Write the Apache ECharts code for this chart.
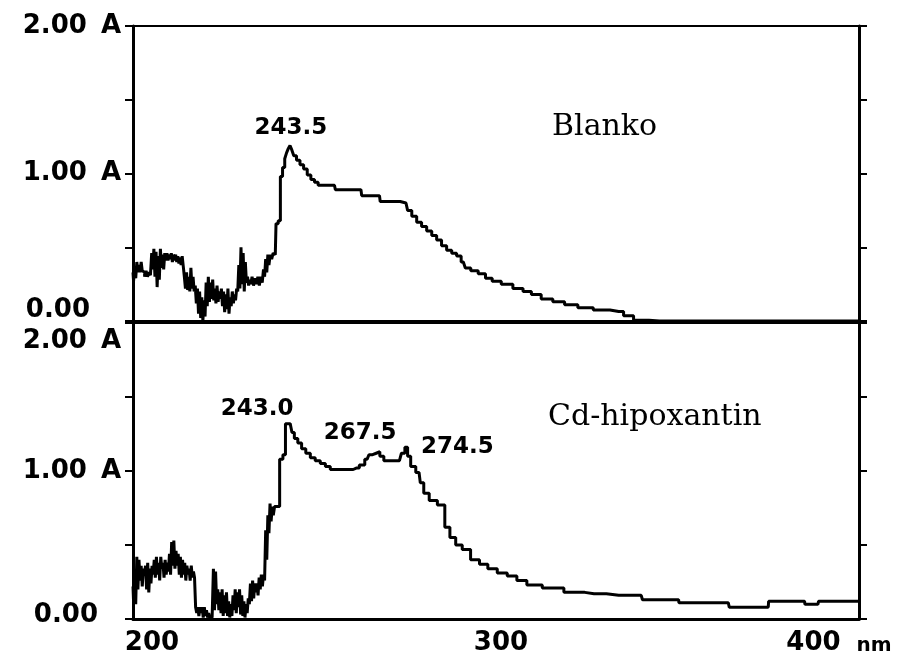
<!DOCTYPE html>
<html>
<head>
<meta charset="utf-8">
<script src="https://cdn.jsdelivr.net/npm/echarts@6/dist/echarts.min.js"></script>
<style>
  html, body { margin: 0; padding: 0; background: #fff; }
  #chart { width: 914px; height: 662px; }
</style>
</head>
<body>
<div id="chart"></div>
<script>
// wavelength (nm) / absorbance (A)
var blankoNm = [200.0, 200.3, 200.6, 200.9, 201.2, 201.5, 201.8, 202.1, 202.4, 202.7, 203.0, 203.4, 203.8, 204.2, 204.6, 205.0, 205.3, 205.6, 205.9, 206.2, 206.5, 206.8, 207.1, 207.4, 207.7, 208.0, 208.3, 208.6, 208.9, 209.2, 209.5, 209.8, 210.1, 210.4, 210.7, 211.0, 211.3, 211.6, 211.9, 212.2, 212.5, 212.8, 213.1, 213.4, 213.7, 214.0, 214.3, 214.6, 214.9, 215.2, 215.5, 215.8, 216.1, 216.4, 216.7, 217.0, 217.3, 217.6, 217.9, 218.2, 218.5, 218.8, 219.1, 219.4, 219.7, 220.0, 220.3, 220.6, 220.9, 221.2, 221.5, 221.8, 222.1, 222.4, 222.7, 223.0, 223.3, 223.6, 223.9, 224.2, 224.5, 224.8, 225.1, 225.4, 225.7, 226.0, 226.3, 226.6, 226.9, 227.2, 227.5, 227.8, 228.1, 228.4, 228.7, 229.0, 229.3, 229.6, 229.9, 230.2, 230.5, 230.8, 231.1, 231.4, 231.7, 232.0, 232.3, 232.6, 233.0, 233.4, 233.8, 234.2, 234.6, 235.0, 235.4, 235.8, 236.1, 236.4, 236.7, 237.0, 237.3, 237.6, 238.0, 238.4, 238.8, 239.2, 239.6, 240.4, 240.8, 241.6, 242.0, 242.6, 243.0, 243.5, 244.0, 244.6, 245.5, 246.5, 247.5, 248.5, 249.5, 250.5, 251.5, 255.5, 256.0, 262.8, 263.2, 267.9, 268.3, 272.0, 275.2, 276.1, 277.5, 278.8, 280.2, 281.6, 283.0, 284.3, 285.7, 287.1, 288.5, 289.8, 291.0, 292.1, 294.0, 296.2, 298.0, 299.9, 303.0, 306.3, 308.6, 310.9, 314.0, 317.3, 320.5, 324.6, 329.0, 333.8, 336.5, 339.3, 345.0, 400.0];
var blankoAbs = [0.33, 0.27, 0.35, 0.29, 0.40, 0.33, 0.38, 0.33, 0.40, 0.34, 0.33, 0.30, 0.34, 0.30, 0.33, 0.31, 0.46, 0.35, 0.49, 0.30, 0.47, 0.23, 0.44, 0.28, 0.49, 0.36, 0.45, 0.35, 0.46, 0.41, 0.46, 0.41, 0.45, 0.42, 0.46, 0.40, 0.45, 0.41, 0.45, 0.40, 0.44, 0.39, 0.43, 0.38, 0.44, 0.37, 0.30, 0.22, 0.33, 0.21, 0.30, 0.20, 0.36, 0.22, 0.30, 0.20, 0.24, 0.12, 0.22, 0.05, 0.20, 0.02, 0.16, 0.00, 0.14, 0.03, 0.26, 0.10, 0.30, 0.13, 0.26, 0.15, 0.28, 0.14, 0.22, 0.12, 0.24, 0.13, 0.20, 0.15, 0.22, 0.10, 0.20, 0.06, 0.18, 0.08, 0.22, 0.05, 0.16, 0.10, 0.20, 0.12, 0.18, 0.14, 0.22, 0.20, 0.38, 0.22, 0.50, 0.25, 0.46, 0.20, 0.40, 0.26, 0.30, 0.24, 0.28, 0.25, 0.30, 0.24, 0.29, 0.25, 0.30, 0.24, 0.30, 0.26, 0.35, 0.30, 0.42, 0.33, 0.45, 0.38, 0.45, 0.42, 0.46, 0.45, 0.66, 0.68, 0.98, 1.04, 1.10, 1.14, 1.17, 1.19, 1.16, 1.12, 1.09, 1.06, 1.03, 0.99, 0.96, 0.94, 0.92, 0.92, 0.89, 0.89, 0.85, 0.85, 0.81, 0.81, 0.80, 0.75, 0.71, 0.67, 0.64, 0.61, 0.58, 0.55, 0.51, 0.48, 0.46, 0.44, 0.40, 0.36, 0.34, 0.32, 0.29, 0.27, 0.25, 0.22, 0.20, 0.18, 0.15, 0.13, 0.11, 0.09, 0.075, 0.065, 0.035, 0.005, 0.0, 0.0];

var cdNm = [200.0, 200.3, 200.6, 200.9, 201.2, 201.5, 201.8, 202.1, 202.4, 202.7, 203.0, 203.3, 203.6, 203.9, 204.2, 204.5, 204.8, 205.1, 205.4, 205.7, 206.0, 206.3, 206.6, 206.9, 207.2, 207.5, 207.8, 208.1, 208.4, 208.7, 209.0, 209.3, 209.6, 209.9, 210.2, 210.5, 210.8, 211.1, 211.4, 211.7, 212.0, 212.3, 212.6, 212.9, 213.2, 213.5, 213.8, 214.1, 214.4, 214.7, 215.0, 215.3, 215.6, 215.9, 216.2, 216.5, 216.8, 217.1, 217.4, 217.7, 218.0, 218.3, 218.6, 218.9, 219.2, 219.5, 219.8, 220.1, 220.4, 220.7, 221.0, 221.3, 221.6, 222.0, 222.3, 222.6, 222.9, 223.2, 223.5, 223.8, 224.1, 224.4, 224.7, 225.0, 225.3, 225.6, 225.9, 226.2, 226.5, 226.8, 227.1, 227.4, 227.7, 228.0, 228.3, 228.6, 228.9, 229.2, 229.5, 229.8, 230.1, 230.4, 230.7, 231.0, 231.3, 231.6, 231.9, 232.2, 232.5, 232.8, 233.1, 233.4, 233.7, 234.0, 234.3, 234.6, 234.9, 235.2, 235.5, 235.8, 236.1, 236.4, 236.7, 237.0, 237.3, 237.6, 237.9, 238.2, 238.5, 238.8, 239.2, 240.0, 240.8, 241.8, 242.2, 243.0, 243.6, 244.0, 244.9, 245.9, 247.0, 248.2, 249.5, 250.9, 252.3, 253.7, 255.0, 257.5, 259.8, 261.5, 263.2, 264.5, 265.5, 266.5, 267.5, 268.5, 269.7, 271.5, 273.4, 274.5, 275.3, 276.0, 277.0, 278.8, 279.5, 280.7, 282.5, 285.2, 286.6, 288.0, 289.8, 291.6, 294.4, 296.5, 299.0, 301.7, 304.5, 307.0, 310.0, 315.5, 321.9, 327.0, 333.8, 340.0, 340.7, 350.3, 350.5, 364.0, 364.5, 375.0, 375.2, 385.0, 385.2, 388.7, 389.0, 400.0];
var cdAbs = [0.22, 0.12, 0.18, 0.10, 0.42, 0.20, 0.40, 0.26, 0.36, 0.22, 0.34, 0.30, 0.36, 0.20, 0.38, 0.18, 0.34, 0.24, 0.36, 0.30, 0.40, 0.28, 0.42, 0.30, 0.38, 0.26, 0.42, 0.34, 0.38, 0.28, 0.40, 0.30, 0.38, 0.32, 0.44, 0.30, 0.52, 0.36, 0.53, 0.34, 0.46, 0.36, 0.44, 0.30, 0.42, 0.28, 0.40, 0.30, 0.38, 0.26, 0.36, 0.30, 0.34, 0.26, 0.36, 0.28, 0.32, 0.28, 0.08, 0.04, 0.08, 0.02, 0.08, 0.04, 0.08, 0.01, 0.08, 0.02, 0.06, 0.01, 0.04, 0.01, 0.01, 0.02, 0.34, 0.06, 0.32, 0.10, 0.20, 0.06, 0.18, 0.04, 0.20, 0.02, 0.16, 0.04, 0.18, 0.02, 0.12, 0.01, 0.10, 0.02, 0.16, 0.06, 0.20, 0.04, 0.18, 0.08, 0.20, 0.03, 0.16, 0.02, 0.12, 0.01, 0.10, 0.04, 0.14, 0.10, 0.24, 0.12, 0.26, 0.14, 0.24, 0.18, 0.24, 0.16, 0.28, 0.20, 0.30, 0.22, 0.30, 0.26, 0.60, 0.40, 0.70, 0.58, 0.78, 0.66, 0.76, 0.70, 0.76, 0.76, 1.08, 1.11, 1.32, 1.32, 1.31, 1.26, 1.22, 1.19, 1.15, 1.12, 1.09, 1.07, 1.05, 1.03, 1.01, 1.01, 1.01, 1.02, 1.04, 1.08, 1.11, 1.12, 1.13, 1.10, 1.07, 1.07, 1.07, 1.12, 1.16, 1.10, 1.03, 0.99, 0.92, 0.85, 0.80, 0.77, 0.62, 0.55, 0.50, 0.47, 0.40, 0.37, 0.34, 0.31, 0.29, 0.26, 0.23, 0.21, 0.18, 0.17, 0.16, 0.16, 0.13, 0.13, 0.11, 0.11, 0.08, 0.08, 0.12, 0.12, 0.10, 0.10, 0.12, 0.12];

// peak labels: [nm, absorbance at peak]
var blankoPeaks = [[243.5, 1.19]];
var cdPeaks = [[243.0, 1.32], [267.5, 1.13], [274.5, 1.16]];
var blankoPeakText = ["243.5"];
var cdPeakText = ["243.0", "267.5", "274.5"];
var peakOffsets = [[0, -17], [-32, -15], [-18, -19], [54, 0]];

var xTicks = [200, 300, 400];

function zip(a, b) {
    return a.map(function (v, i) { return [v, b[i]]; });
}

var lblFont = "'DejaVu Sans', sans-serif";

function txt(size, pad) {
    var s = { fontFamily: lblFont, fontWeight: "bold", fontSize: size, color: "#000" };
    if (pad) s.padding = pad;
    return s;
}

function peakPoints(peaks, texts, offs) {
    return peaks.map(function (p, i) {
        return {
            coord: p,
            symbolSize: 0,
            label: {
                show: true,
                position: "inside",
                offset: offs[i],
                formatter: texts[i],
                color: "#000",
                fontFamily: lblFont,
                fontWeight: "bold",
                fontSize: 23
            }
        };
    });
}

function leftAxis(gridIndex, top) {
    return {
        gridIndex: gridIndex,
        type: "value",
        min: 0,
        max: 2,
        interval: 0.5,
        position: "left",
        axisLine: { show: true, lineStyle: { color: "#000", width: 3 } },
        axisTick: { show: true, length: 8, lineStyle: { color: "#000", width: 2 } },
        splitLine: { show: false },
        axisLabel: {
            margin: 12,
            color: "#000",
            fontFamily: lblFont,
            fontWeight: "bold",
            fontSize: 26,
            formatter: function (v) {
                if (v === 2) return top ? "{v|2.00}{u|A}" : "{dv|2.00}{du|A}";
                if (v === 1) return "{v|1.00}{u|A}";
                if (v === 0) return top ? "{up|0.00}" : "{up2|0.00}";
                return "";
            },
            rich: {
                v: txt(26),
                u: txt(26, [0, 0, 0, 14]),
                dv: txt(26, [36, 0, 0, 0]),
                du: txt(26, [36, 0, 0, 14]),
                up: txt(26, [0, 31, 22, 0]),
                up2: txt(26, [0, 23, 8, 0])
            }
        }
    };
}

function rightAxis(gridIndex) {
    return {
        gridIndex: gridIndex,
        type: "value",
        min: 0,
        max: 2,
        interval: 0.5,
        position: "right",
        axisLine: { show: true, lineStyle: { color: "#000", width: 3 } },
        axisTick: { show: true, length: 8, lineStyle: { color: "#000", width: 2 } },
        axisLabel: { show: false },
        splitLine: { show: false }
    };
}

var chart = echarts.init(document.getElementById("chart"));
chart.setOption({
    animation: false,
    backgroundColor: "#fff",
    title: [
        {
            text: "Blanko",
            left: 547,
            top: 107,
            textStyle: { fontFamily: "'DejaVu Serif', serif", fontWeight: "normal", fontSize: 30, color: "#000" }
        },
        {
            text: "Cd-hipoxantin",
            left: 543,
            top: 397,
            textStyle: { fontFamily: "'DejaVu Serif', serif", fontWeight: "normal", fontSize: 30, color: "#000" }
        }
    ],
    grid: [
        { left: 133, right: 55, top: 26, height: 295, show: true, borderColor: "#000", borderWidth: 2 },
        { left: 133, right: 55, top: 323, height: 296, show: true, borderColor: "#000", borderWidth: 2 }
    ],
    xAxis: [
        {
            gridIndex: 0,
            type: "value",
            min: 200,
            max: 400,
            interval: 100,
            axisLine: { show: true, onZero: false, lineStyle: { color: "#000", width: 3 } },
            axisTick: { show: false },
            axisLabel: { show: false },
            splitLine: { show: false }
        },
        {
            gridIndex: 1,
            type: "value",
            min: 200,
            max: 400,
            interval: 100,
            axisLine: { show: true, onZero: false, lineStyle: { color: "#000", width: 3 } },
            axisTick: { show: false },
            splitLine: { show: false },
            axisLabel: {
                margin: 11,
                color: "#000",
                fontFamily: lblFont,
                fontWeight: "bold",
                fontSize: 26,
                formatter: function (v) {
                    if (v === xTicks[0]) return "{a|" + v + "}";
                    if (v === xTicks[1]) return "{b|" + v + "}";
                    return "{c|" + v + "}{n|nm}";
                },
                rich: {
                    a: txt(26, [0, 0, 0, 38]),
                    b: txt(26, [0, 0, 0, 10]),
                    c: txt(26),
                    n: txt(20, [5, 40, 0, 16])
                }
            }
        }
    ],
    yAxis: [leftAxis(0, true), leftAxis(1, false), rightAxis(0), rightAxis(1)],
    series: [
        {
            name: "Blanko",
            type: "line",
            xAxisIndex: 0,
            yAxisIndex: 0,
            step: "middle",
            showSymbol: false,
            lineStyle: { color: "#000", width: 3 },
            data: zip(blankoNm, blankoAbs),
            markPoint: {
                symbol: "circle",
                data: peakPoints(blankoPeaks, blankoPeakText, peakOffsets.slice(0, 1))
            }
        },
        {
            name: "Cd-hipoxantin",
            type: "line",
            xAxisIndex: 1,
            yAxisIndex: 1,
            step: "middle",
            showSymbol: false,
            lineStyle: { color: "#000", width: 3 },
            data: zip(cdNm, cdAbs),
            markPoint: {
                symbol: "circle",
                data: peakPoints(cdPeaks, cdPeakText, peakOffsets.slice(1))
            }
        }
    ]
});
</script>
</body>
</html>
